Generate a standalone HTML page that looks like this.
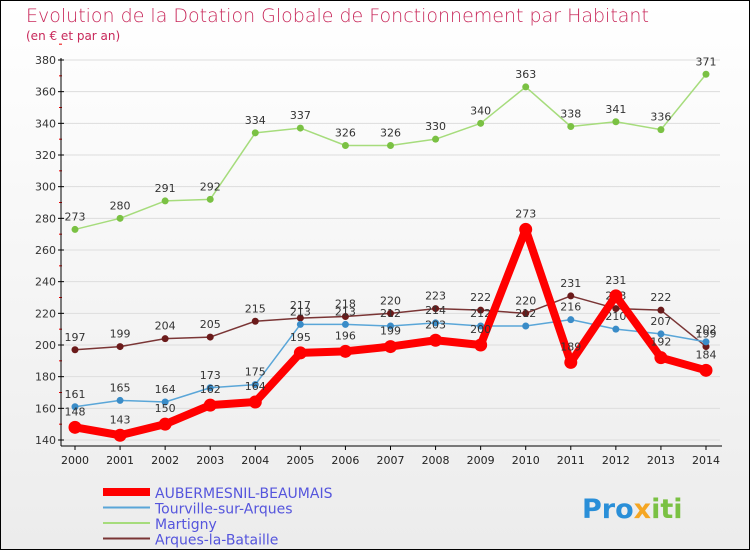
<!DOCTYPE html>
<html><head><meta charset="utf-8"><style>
body{margin:0}
#wrap{width:750px;height:550px;position:relative;background:linear-gradient(#fff,#ececec);font-family:"DejaVu Sans","Liberation Sans",sans-serif;box-sizing:border-box;border:1px solid #000;overflow:hidden}
</style></head><body>
<div id="wrap">
<svg id="svg" width="750" height="550" style="position:absolute;left:-1px;top:-1px">
<text x="26" y="22" font-size="19" fill="#c8285a" font-family="DejaVu Sans" style="font-weight:200">Evolution de la Dotation Globale de Fonctionnement par Habitant</text>
<text x="26" y="40" font-size="12" fill="#c8285a">(en € et par an)</text>
<g id="grid"></g><g id="axes"></g><g id="series"></g><g id="legend"></g>
<text x="582" y="518" font-size="27" font-weight="bold" fill="#2a8fd8">Pro<tspan fill="#f5a623">x</tspan><tspan fill="#7ac143">iti</tspan></text>
</svg>
</div>
<script>
const years=[2000,2001,2002,2003,2004,2005,2006,2007,2008,2009,2010,2011,2012,2013,2014];
const yTicks=[140,160,180,200,220,240,260,280,300,320,340,360,380];
const aubermesnil=[148,143,150,162,164,195,196,199,203,200,273,189,231,192,184];
const tourville=[161,165,164,173,175,213,213,212,214,212,212,216,210,207,202];
const martigny=[273,280,291,292,334,337,326,326,330,340,363,338,341,336,371];
const arques=[197,199,204,205,215,217,218,220,223,222,220,231,223,222,199];
const NS="http://www.w3.org/2000/svg";
const xs=i=>75+i*(706-75)/14;
const ys=v=>440-(v-140)*380/240;
function mk(t,a,p){const e=document.createElementNS(NS,t);for(const k in a)e.setAttribute(k,a[k]);p.appendChild(e);return e;}
const grid=document.getElementById('grid'),axes=document.getElementById('axes'),ser=document.getElementById('series'),leg=document.getElementById('legend');
yTicks.forEach(v=>{
 const l=mk('line',{x1:61,x2:720,y1:ys(v),y2:ys(v),stroke:'#dddddd'},grid);
 
 const t=mk('text',{x:56,y:ys(v)+4,'font-size':11,fill:'#333','text-anchor':'end'},axes);
 t.textContent=v;
 mk('line',{x1:58,x2:64,y1:ys(v),y2:ys(v),stroke:'#000'},axes);
 mk('line',{x1:59,x2:62,y1:ys(v+10),y2:ys(v+10),stroke:'#e00'},axes);
});
mk('line',{x1:61,x2:61,y1:58,y2:446,stroke:'#000'},axes);
mk('line',{x1:61,x2:722,y1:446,y2:446,stroke:'#000'},axes);
years.forEach((y,i)=>{
 mk('line',{x1:xs(i),x2:xs(i),y1:446,y2:450,stroke:'#000'},axes);
 const t=mk('text',{x:xs(i),y:464,'font-size':11,fill:'#222','text-anchor':'middle'},axes);
 t.textContent=y;
});
function draw(data,color,dot,w,r,name,labelOff){
 const g=mk('g',{},ser);
 const p=mk('polyline',{points:data.map((v,i)=>xs(i)+','+ys(v)).join(' '),fill:'none',stroke:color,'stroke-width':w,'stroke-linejoin':'round'},g);
 
 data.forEach((v,i)=>{
  const c=mk('circle',{cx:xs(i),cy:ys(v),r:r,fill:dot},g);
  
  const t=mk('text',{x:xs(i),y:ys(v)+labelOff,'font-size':11,fill:'#333','text-anchor':'middle'},g);
  t.textContent=v;
 });
}
draw(martigny,'#a6dc7c','#7ac143',1.5,3.5,'martigny',-9);
draw(arques,'#7a3535','#6b1a1a',1.5,3.5,'arques',-9);
draw(tourville,'#5aa6d8','#3a8cc8',1.5,3.5,'tourville',-9);
draw(aubermesnil,'#ff0000','#ff0000',8,6.5,'aubermesnil',-12);
const legendNames=['AUBERMESNIL-BEAUMAIS','Tourville-sur-Arques','Martigny','Arques-la-Bataille'];
const legendColors=['#ff0000','#5aa6d8','#a6dc7c','#7a3535'];
const legendW=[8,2,2,2];
legendNames.forEach((n,i)=>{
 const y=492+i*15.5;
 const l=mk('line',{x1:103,x2:150,y1:y,y2:y,stroke:legendColors[i],'stroke-width':legendW[i]},leg);
 
 const t=mk('text',{x:155,y:y+6,'font-size':14,fill:'#5555dd'},leg);
 t.textContent=n;
});
</script>
</body></html>
